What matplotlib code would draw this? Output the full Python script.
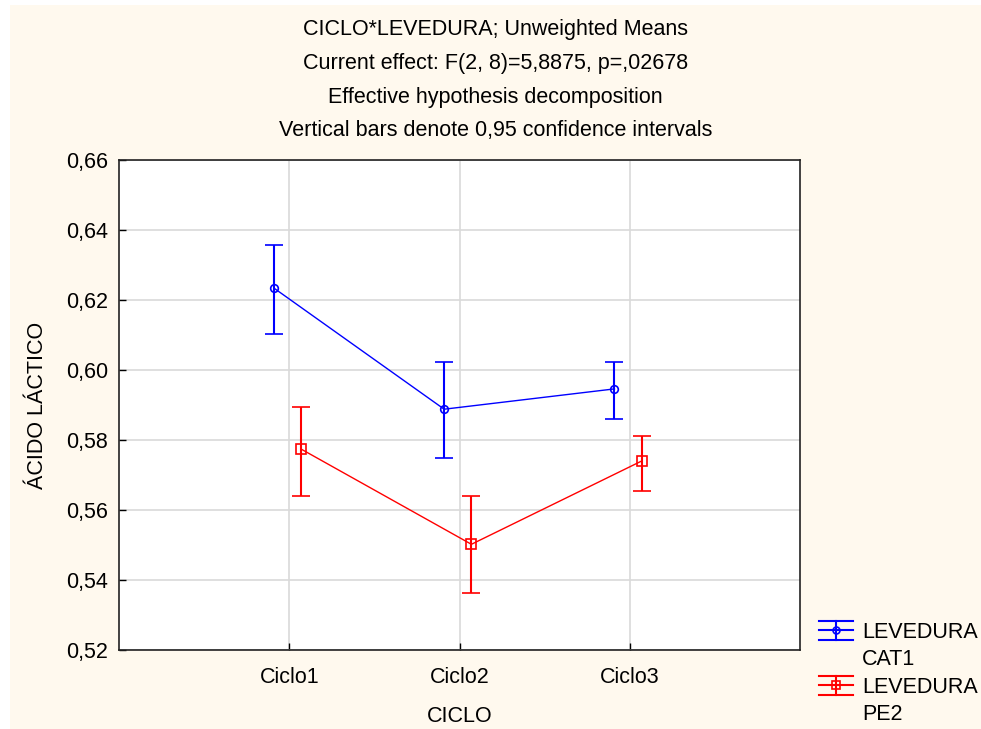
import matplotlib.pyplot as plt
import matplotlib.patches as mpatches
from matplotlib.lines import Line2D
from matplotlib.legend_handler import HandlerBase
import numpy as np

plt.rcParams['font.family'] = ['Liberation Sans', 'DejaVu Sans']

ciclos = ["Ciclo1", "Ciclo2", "Ciclo3"]
series_names = ["LEVEDURA\nCAT1", "LEVEDURA\nPE2"]

# medias e limites do intervalo de confianca (0,95)
cat1_mean = [0.6234, 0.5888, 0.5946]
cat1_low = [0.6103, 0.5748, 0.5859]
cat1_high = [0.6357, 0.6024, 0.6024]

pe2_mean = [0.5774, 0.5502, 0.5740]
pe2_low = [0.5640, 0.5362, 0.5654]
pe2_high = [0.5895, 0.5640, 0.5812]

yticks = [0.52, 0.54, 0.56, 0.58, 0.60, 0.62, 0.64, 0.66]

title_lines = [
    "CICLO*LEVEDURA; Unweighted Means",
    "Current effect: F(2, 8)=5,8875, p=,02678",
    "Effective hypothesis decomposition",
    "Vertical bars denote 0,95 confidence intervals",
]

FS = 15.5
bg = '#fff9ee'


class HandlerWideErr(HandlerBase):
    """errorbar na legenda no estilo Statistica: tres linhas horizontais"""

    def __init__(self, color, marker, ms):
        super().__init__()
        self.color, self.marker, self.ms = color, marker, ms

    def create_artists(self, legend, orig_handle, xdescent, ydescent, width, height, fontsize, trans):
        cy = height / 2 - ydescent
        dy = height * 0.65
        arts = []
        for yy in (cy - dy, cy, cy + dy):
            arts.append(Line2D([-xdescent, width - xdescent], [yy, yy], color=self.color, lw=1.5, transform=trans))
        mid = (width - 2 * xdescent) / 2
        arts.append(Line2D([mid, mid], [cy - dy, cy + dy], color=self.color, lw=1.5, transform=trans))
        arts.append(Line2D([mid], [cy], marker=self.marker, ms=self.ms, mfc='none', mec=self.color,
                           mew=1.2, color=self.color, transform=trans))
        return arts


fig = plt.figure(figsize=(9.81, 7.29), dpi=100, facecolor='white')
# fundo creme (com pequena margem branca a esquerda e em cima)
fig.patches.append(mpatches.Rectangle((10 / 981, 0), 1, 1 - 5 / 729, transform=fig.transFigure,
                                      facecolor=bg, edgecolor='none', zorder=-10))

ax = fig.add_axes([119 / 981, 1 - 650 / 729, (800 - 119) / 981, (650 - 160) / 729])
ax.set_facecolor('white')

x = np.arange(1, len(ciclos) + 1)


def draw_series(xpos, mean, low, high, color, marker, ms):
    mean = np.array(mean)
    err = [mean - np.array(low), np.array(high) - mean]
    return ax.errorbar(xpos, mean, yerr=err, color=color, marker=marker, ms=ms,
                       mfc='none', mec=color, mew=1.2, lw=1.0, elinewidth=1.5,
                       capsize=6.5, capthick=1.5, zorder=3)


h1 = draw_series(x - 0.09, cat1_mean, cat1_low, cat1_high, '#0000ff', 'o', 5.5)
h2 = draw_series(x + 0.07, pe2_mean, pe2_low, pe2_high, '#ff0000', 's', 7)

ax.set_xlim(0, 4)
ax.set_ylim(0.52, 0.66)
ax.set_xticks(x)
ax.set_xticklabels(ciclos, fontsize=FS)
ax.set_yticks(yticks)
ax.set_yticklabels([f"{v:.2f}".replace('.', ',') for v in yticks], fontsize=FS)
ax.tick_params(axis='y', direction='in', length=5, width=1, pad=8, colors='black')
ax.tick_params(axis='x', direction='in', length=5, width=1, pad=12, colors='black')
ax.grid(True, color='#d9d9d9', lw=1.2)
ax.set_axisbelow(True)
for s in ax.spines.values():
    s.set_linewidth(1.2)
    s.set_color('#222222')

ax.set_xlabel("CICLO", fontsize=FS, labelpad=13)
ax.set_ylabel("ÁCIDO LÁCTICO", fontsize=FS, labelpad=13)

for i, line in enumerate(title_lines):
    fig.text(0.505, 1 - (30 + 33.5 * i) / 729, line, ha='center', va='center', fontsize=FS)

# legenda: cada serie em duas linhas, simbolo alinhado com a primeira
blank = mpatches.Patch(visible=False)
handles, labels = [], []
for h, name in zip([h1, h2], series_names):
    first, second = name.split("\n")
    handles += [h, blank]
    labels += [first, second]

leg = fig.legend(handles, labels, loc='upper left', bbox_to_anchor=(819 / 981, 1 - 622 / 729),
                 frameon=False, fontsize=FS, handlelength=1.6, handletextpad=0.4,
                 labelspacing=0.3, borderaxespad=0, borderpad=0,
                 handler_map={h1: HandlerWideErr('#0000ff', 'o', 5),
                              h2: HandlerWideErr('#ff0000', 's', 6)})

fig.savefig("out.png", dpi=100, facecolor=fig.get_facecolor())
